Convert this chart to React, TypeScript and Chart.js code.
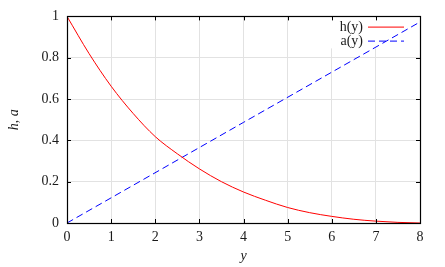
import React, { useEffect, useRef } from "react";
import { Chart, registerables } from "chart.js";

Chart.register(...registerables);

// h(y)
const hY = [0, 0.5, 1, 1.5, 2, 2.5, 3, 3.5, 4, 4.5, 5, 5.5, 6, 6.5, 7, 7.5, 8];
const hVals = [1, 0.82, 0.662, 0.53, 0.418, 0.335, 0.262, 0.2, 0.15, 0.11, 0.075, 0.05, 0.032, 0.018, 0.009, 0.003, 0];
// a(y)
const aY = [0, 4, 8];
const aVals = [0, 0.487, 0.973];

const xTicks = [0, 1, 2, 3, 4, 5, 6, 7, 8];
const yTicks = [0, 0.2, 0.4, 0.6, 0.8, 1];
const seriesLabels = ["h(y)", "a(y)"];
const seriesColors = ["#ff0000", "#0000ff"];
const xTitle = "y";
const yTitle = "h, a";

const FONT = "'Liberation Serif', 'Times New Roman', serif";
const TEXT = "#1a1a1a";
const FS = 14;

const gnuplotPlugin = {
  id: "gnuplotDecor",
  beforeDatasetsDraw(chart: any) {
    const ctx = chart.ctx;
    const { right, top } = chart.chartArea;
    ctx.save();
    ctx.fillStyle = "#ffffff";
    ctx.fillRect(right - 98, top + 1, 97, 31);
    ctx.font = `${FS}px ${FONT}`;
    ctx.textAlign = "right";
    ctx.textBaseline = "middle";
    seriesLabels.forEach((lab, i) => {
      const yy = Math.round(top + 11 + i * 14);
      ctx.fillStyle = TEXT;
      ctx.fillText(lab, right - 57, yy);
      ctx.strokeStyle = seriesColors[i];
      ctx.lineWidth = 1;
      ctx.setLineDash(i === 1 ? [7, 4] : []);
      ctx.beginPath();
      ctx.moveTo(right - 52, yy + 0.1);
      ctx.lineTo(right - 16, yy + 0.1);
      ctx.stroke();
    });
    ctx.setLineDash([]);
    ctx.restore();
  },
  afterDraw(chart: any) {
    const ctx = chart.ctx;
    const { left, right, top, bottom } = chart.chartArea;
    const xs = chart.scales.x;
    const ys = chart.scales.y;
    ctx.save();
    ctx.strokeStyle = "#000000";
    ctx.lineWidth = 1;
    const tl = 4;
    ctx.beginPath();
    xTicks.forEach((v) => {
      const px = Math.round(xs.getPixelForValue(v)) + 0.5;
      ctx.moveTo(px, bottom);
      ctx.lineTo(px, bottom - tl);
      ctx.moveTo(px, top);
      ctx.lineTo(px, top + tl);
    });
    yTicks.forEach((v) => {
      const py = Math.round(ys.getPixelForValue(v)) + 0.5;
      ctx.moveTo(left, py);
      ctx.lineTo(left + tl, py);
      ctx.moveTo(right, py);
      ctx.lineTo(right - tl, py);
    });
    ctx.stroke();
    ctx.lineWidth = 1.2;
    ctx.strokeRect(Math.round(left) + 0.5, Math.round(top) + 0.5, Math.round(right - left), Math.round(bottom - top));
    ctx.restore();
  },
};

export default function App() {
  const ref = useRef<HTMLCanvasElement | null>(null);
  useEffect(() => {
    if (!ref.current) return;
    Chart.defaults.font.family = FONT;
    Chart.defaults.color = TEXT;
    const chart = new Chart(ref.current, {
      type: "line",
      data: {
        datasets: [
          {
            label: seriesLabels[0],
            data: hY.map((x, i) => ({ x, y: hVals[i] })),
            borderColor: seriesColors[0],
            borderWidth: 1,
            pointRadius: 0,
            cubicInterpolationMode: "monotone",
            fill: false,
          },
          {
            label: seriesLabels[1],
            data: aY.map((x, i) => ({ x, y: aVals[i] })),
            borderColor: seriesColors[1],
            borderWidth: 1,
            borderDash: [7, 4],
            pointRadius: 0,
            fill: false,
          },
        ],
      },
      options: {
        animation: false,
        responsive: false,
        layout: { padding: { left: 0, right: 25, top: 16, bottom: 0 } },
        plugins: { legend: { display: false }, tooltip: { enabled: false } },
        scales: {
          x: {
            type: "linear",
            min: 0,
            max: 8,
            afterBuildTicks: (s: any) => {
              s.ticks = xTicks.map((v) => ({ value: v }));
            },
            afterFit: (s: any) => {
              s.height = 44;
            },
            ticks: { font: { size: FS }, padding: 6, color: TEXT, maxRotation: 0, callback: (v: any) => String(v) },
            grid: { color: "#e2e2e2", lineWidth: 1, drawTicks: false },
            border: { display: false },
            title: {
              display: true,
              text: xTitle,
              font: { size: FS, style: "italic" },
              color: TEXT,
              padding: { top: 0, bottom: 2 },
            },
          },
          y: {
            type: "linear",
            min: 0,
            max: 1,
            afterBuildTicks: (s: any) => {
              s.ticks = yTicks.map((v) => ({ value: v }));
            },
            afterFit: (s: any) => {
              s.width = 67;
            },
            ticks: { font: { size: FS }, padding: 8, color: TEXT, callback: (v: any) => String(Math.round(v * 10) / 10) },
            grid: { color: "#e2e2e2", lineWidth: 1, drawTicks: false },
            border: { display: false },
            title: {
              display: true,
              text: yTitle,
              font: { size: FS, style: "italic" },
              color: TEXT,
              padding: { top: 6, bottom: 0 },
            },
          },
        },
      },
      plugins: [gnuplotPlugin],
    } as any);
    return () => chart.destroy();
  }, []);
  return (
    <div style={{ position: "absolute", left: 0, top: 0, width: 445, height: 267, background: "#fff" }}>
      <canvas ref={ref} width={445} height={267} style={{ display: "block" }} />
    </div>
  );
}
